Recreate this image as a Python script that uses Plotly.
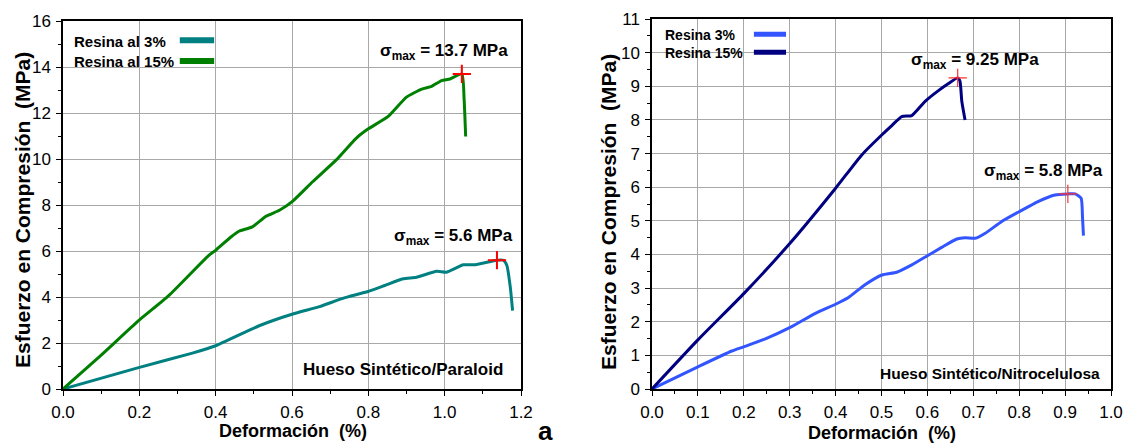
import plotly.graph_objects as go

# Hueso Sintético / Paraloid
par_strain_3 = [0, 0.198, 0.339, 0.40, 0.514, 0.602, 0.672, 0.733, 0.799, 0.843, 0.891,
                0.926, 0.979, 1.005, 1.049, 1.08, 1.137, 1.154, 1.163, 1.172, 1.178]
par_stress_3 = [0, 0.93, 1.56, 1.88, 2.75, 3.26, 3.58, 3.94, 4.24, 4.50, 4.79,
                4.86, 5.12, 5.08, 5.40, 5.40, 5.6, 5.6, 5.37, 4.42, 3.41]
par_strain_15 = [0, 0.10, 0.198, 0.277, 0.382, 0.40, 0.44, 0.461, 0.496, 0.532, 0.567, 0.602,
                 0.654, 0.716, 0.768, 0.799, 0.852, 0.90, 0.94, 0.966, 0.992, 1.014,
                 1.045, 1.051, 1.055]
par_stress_15 = [0, 1.47, 2.97, 4.06, 5.81, 6.03, 6.61, 6.86, 7.05, 7.51, 7.77, 8.17,
                 9.01, 9.96, 10.9, 11.3, 11.85, 12.69, 13.04, 13.16, 13.41, 13.48,
                 13.7, 12.58, 10.98]

# Hueso Sintético / Nitrocelulosa
nit_strain_3 = [0, 0.1, 0.174, 0.201, 0.247, 0.301, 0.356, 0.40, 0.428, 0.464, 0.501, 0.533,
                0.566, 0.601, 0.631, 0.664, 0.682, 0.704, 0.726, 0.762, 0.801, 0.842,
                0.878, 0.906, 0.922, 0.935, 0.938, 0.94]
nit_stress_3 = [0, 0.66, 1.13, 1.26, 1.49, 1.83, 2.25, 2.52, 2.72, 3.10, 3.39, 3.47,
                3.69, 3.97, 4.21, 4.46, 4.50, 4.48, 4.63, 4.98, 5.28, 5.58,
                5.77, 5.8, 5.8, 5.67, 5.08, 4.56]
nit_strain_15 = [0, 0.1, 0.201, 0.301, 0.40, 0.457, 0.501, 0.523, 0.544, 0.566, 0.595,
                 0.624, 0.646, 0.666, 0.671, 0.675, 0.682]
nit_stress_15 = [0, 1.46, 2.85, 4.34, 5.97, 6.96, 7.56, 7.84, 8.10, 8.13, 8.55,
                 8.87, 9.08, 9.25, 9.15, 8.55, 8.0]

# maximum stress points
par_peak_x = [1.045, 1.137]
par_peak_y = [13.7, 5.6]
nit_peak_x = [0.666, 0.906]
nit_peak_y = [9.25, 5.8]

W, H = 1125, 445
FONT = "Arial, Liberation Sans, sans-serif"
C_TEAL, C_GREEN = "#008080", "#008000"
C_BLUE, C_NAVY = "#3355ff", "#000080"


def px_x(p):
    return p / W


def px_y(p):
    return 1 - p / H


fig = go.Figure()

fig.add_trace(go.Scatter(x=par_strain_3, y=par_stress_3, mode="lines",
                         line=dict(color=C_TEAL, width=3, shape="spline", smoothing=0.5),
                         xaxis="x", yaxis="y", showlegend=False))
fig.add_trace(go.Scatter(x=par_strain_15, y=par_stress_15, mode="lines",
                         line=dict(color=C_GREEN, width=3, shape="spline", smoothing=0.5),
                         xaxis="x", yaxis="y", showlegend=False))
fig.add_trace(go.Scatter(x=par_peak_x, y=par_peak_y, mode="markers",
                         marker=dict(symbol="cross-thin", size=13,
                                     line=dict(color="#ff0000", width=2)),
                         xaxis="x", yaxis="y", showlegend=False))

fig.add_trace(go.Scatter(x=nit_strain_3, y=nit_stress_3, mode="lines",
                         line=dict(color=C_BLUE, width=3, shape="spline", smoothing=0.5),
                         xaxis="x2", yaxis="y2", showlegend=False))
fig.add_trace(go.Scatter(x=nit_strain_15, y=nit_stress_15, mode="lines",
                         line=dict(color=C_NAVY, width=3, shape="spline", smoothing=0.5),
                         xaxis="x2", yaxis="y2", showlegend=False))
fig.add_trace(go.Scatter(x=nit_peak_x, y=nit_peak_y, mode="markers",
                         marker=dict(symbol="cross-thin", size=13,
                                     line=dict(color="#ff3030", width=1.2)),
                         xaxis="x2", yaxis="y2", showlegend=False))

axis_common = dict(
    automargin=False,
    showline=True, linecolor="black", linewidth=1.5, mirror=True,
    ticks="outside", ticklen=5, tickwidth=1.2, tickcolor="black",
    showgrid=True, gridcolor="#a8a8a8", gridwidth=1,
    zeroline=False,
    tickfont=dict(family=FONT, size=17, color="black"),
)
minor_common = dict(ticks="outside", ticklen=3, tickcolor="black", showgrid=False)

fig.update_layout(
    width=W, height=H,
    margin=dict(l=0, r=0, t=0, b=0),
    paper_bgcolor="white", plot_bgcolor="white",
    xaxis=dict(axis_common, domain=[px_x(63), px_x(521)], range=[0, 1.2],
               dtick=0.2, tickformat=".1f", anchor="y", ticklabelstandoff=2,
               minor=dict(minor_common, dtick=0.1)),
    yaxis=dict(axis_common, domain=[px_y(389), px_y(21)], range=[0, 16],
               dtick=2, anchor="x", ticklabelstandoff=2,
               minor=dict(minor_common, dtick=1)),
    xaxis2=dict(axis_common, domain=[px_x(652), px_x(1111)], range=[0, 1.0],
                dtick=0.1, tickformat=".1f", anchor="y2", ticklabelstandoff=2,
                minor=dict(minor_common, dtick=0.05)),
    yaxis2=dict(axis_common, domain=[px_y(389), px_y(19)], range=[0, 11],
                dtick=1, anchor="x2", ticklabelstandoff=2,
                minor=dict(minor_common, dtick=0.5)),
)

bold = dict(family=FONT, color="black", weight="bold")


def label(text, x, y, xref="paper", yref="paper", size=17, xanchor="center", **kw):
    return dict(text=text, x=x, y=y, xref=xref, yref=yref, showarrow=False,
                xanchor=xanchor, yanchor="middle", font=dict(bold, size=size), **kw)


annotations = [
    # axis titles
    label("Deformación  (%)", px_x(293), px_y(431), size=18),
    label("Deformación  (%)", px_x(882), px_y(433), size=18),
    label("Esfuerzo en Compresión  (MPa)", px_x(22), px_y(210), size=21, textangle=-90),
    label("Esfuerzo en Compresión  (MPa)", px_x(608), px_y(212), size=21, textangle=-90),
    # panel letter
    label("a", px_x(545), px_y(431), size=26),
    # sample labels
    label("Hueso Sintético/Paraloid", 0.965, 0.052, "x domain", "y domain",
          size=17, xanchor="right"),
    label("Hueso Sintético/Nitrocelulosa", 0.98, 0.043, "x2 domain", "y2 domain",
          size=15.5, xanchor="right"),
    # maximum stress labels
    label("σ<sub>max</sub> = 13.7 MPa", 0.998, 14.65, "x", "y"),
    label("σ<sub>max</sub> = 5.6 MPa", 1.024, 6.6, "x", "y"),
    label("σ<sub>max</sub> = 9.25 MPa", 0.704, 9.75, "x2", "y2"),
    label("σ<sub>max</sub> = 5.8 MPa", 0.852, 6.45, "x2", "y2"),
    # legend texts
    label("Resina al 3%", 0.02, 0.944, "x domain", "y domain", size=15, xanchor="left"),
    label("Resina al 15%", 0.02, 0.889, "x domain", "y domain", size=15, xanchor="left"),
    label("Resina 3%", 0.024, 0.957, "x2 domain", "y2 domain", size=14, xanchor="left"),
    label("Resina 15%", 0.024, 0.909, "x2 domain", "y2 domain", size=14, xanchor="left"),
]
fig.update_layout(annotations=annotations)

# legend line samples
shapes = [
    dict(type="line", xref="x domain", yref="y domain", x0=0.255, x1=0.330,
         y0=0.948, y1=0.948, line=dict(color=C_TEAL, width=6)),
    dict(type="line", xref="x domain", yref="y domain", x0=0.255, x1=0.330,
         y0=0.891, y1=0.891, line=dict(color=C_GREEN, width=6)),
    dict(type="line", xref="x2 domain", yref="y2 domain", x0=0.222, x1=0.292,
         y0=0.959, y1=0.959, line=dict(color=C_BLUE, width=5)),
    dict(type="line", xref="x2 domain", yref="y2 domain", x0=0.222, x1=0.292,
         y0=0.910, y1=0.910, line=dict(color=C_NAVY, width=5)),
]
fig.update_layout(shapes=shapes)

# the page body must not add its default margin around the fixed-size figure
fig.write_html("out.html",
               post_script="document.body.style.margin='0';"
                           "document.body.style.overflow='hidden';")
